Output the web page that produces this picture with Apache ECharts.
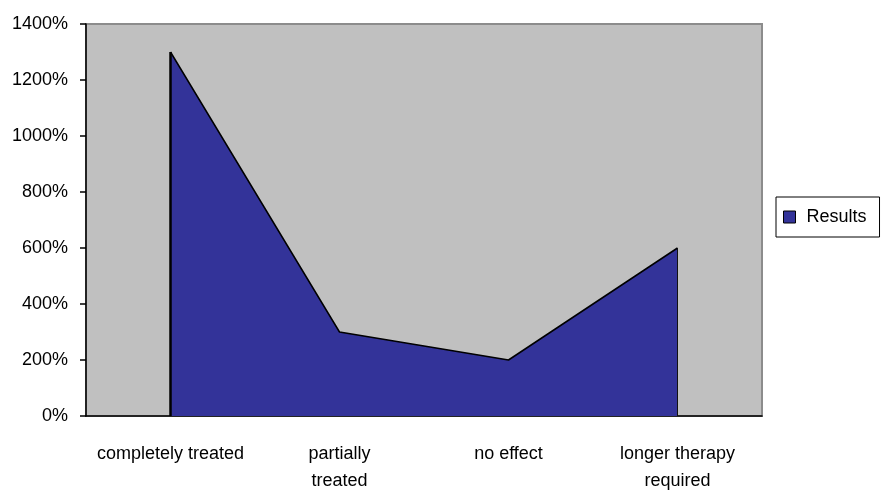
<!DOCTYPE html>
<html>
<head>
<meta charset="utf-8">
<script src="https://cdn.jsdelivr.net/npm/echarts@6/dist/echarts.min.js"></script>
<style>html,body{margin:0;padding:0;background:#fff}#c{width:881px;height:499px}</style>
</head>
<body>
<div id="c"></div>
<script>
var categories = ['completely treated', 'partially\ntreated', 'no effect', 'longer therapy\nrequired'];
var seriesName = 'Results';
var values = [1300, 300, 200, 600];
var yTicks = {min: 0, max: 1400, interval: 200};

var FONT = '"Liberation Sans", Arial, sans-serif';
var chart = echarts.init(document.getElementById('c'));
var last = values.length - 1;
chart.setOption({
  animation: false,
  grid: {left: 86, right: 119, top: 24, bottom: 83, outerBoundsMode: 'none', show: true, backgroundColor: '#c0c0c0', borderColor: '#8c8c8c', borderWidth: 2},
  legend: {
    data: [{name: seriesName, icon: 'rect'}],
    left: 776, top: 197, orient: 'vertical',
    padding: [11, 13, 11, 7],
    borderColor: '#000', borderWidth: 1,
    itemWidth: 12, itemHeight: 12, itemGap: 0,
    textStyle: {fontFamily: FONT, fontSize: 18, color: '#000', padding: [0, 0, 0, 6]},
    itemStyle: {borderColor: '#000', borderWidth: 1}
  },
  xAxis: {
    type: 'category', data: categories, boundaryGap: true,
    axisLine: {lineStyle: {color: '#000', width: 1.5}},
    axisTick: {inside: true, length: 8, lineStyle: {color: '#000'}},
    axisLabel: {fontFamily: FONT, fontSize: 18, color: '#000', margin: 25, lineHeight: 27, interval: 0}
  },
  yAxis: {
    type: 'value', min: yTicks.min, max: yTicks.max, interval: yTicks.interval,
    axisLine: {show: true, lineStyle: {color: '#000', width: 1.5}},
    axisTick: {show: true, length: 6, lineStyle: {color: '#000', width: 1.5}},
    splitLine: {show: false},
    axisLabel: {fontFamily: FONT, fontSize: 18, color: '#000', margin: 18, formatter: function (v) { return v + '%'; }}
  },
  series: [{
    name: seriesName, type: 'line', data: values,
    symbol: 'none',
    lineStyle: {color: '#000', width: 1.5},
    itemStyle: {color: '#333399'},
    areaStyle: {color: '#333399', opacity: 1},
    markLine: {
      silent: true, symbol: 'none', label: {show: false},
      data: [
        [{coord: [0, 0], lineStyle: {color: '#000', width: 2.5, type: 'solid'}}, {coord: [0, values[0]]}],
        [{coord: [last, 0], lineStyle: {color: '#111', width: 1, type: 'solid'}}, {coord: [last, values[last]]}]
      ]
    }
  }]
});
</script>
</body>
</html>
